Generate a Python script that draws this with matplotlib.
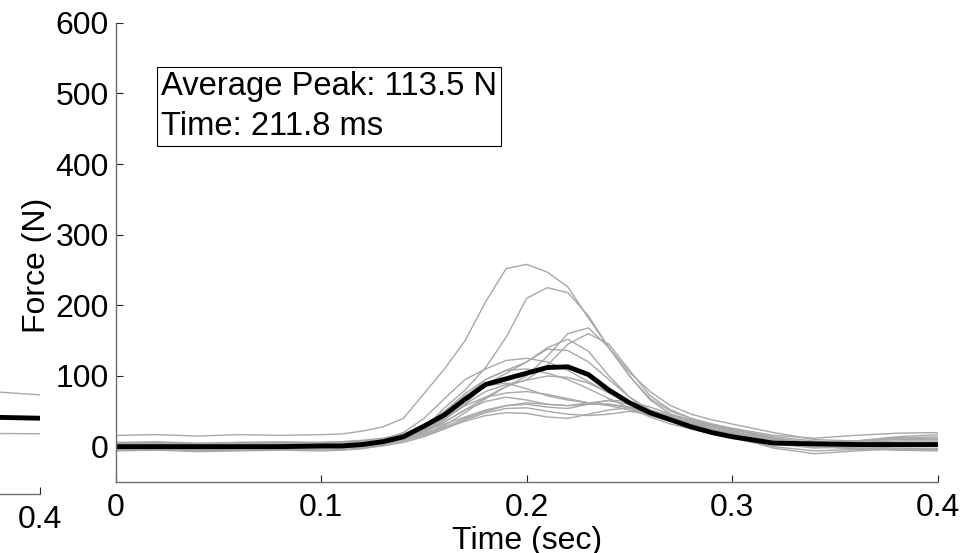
import numpy as np
import matplotlib
matplotlib.use("Agg")
import matplotlib.pyplot as plt

plt.rcParams["font.family"] = ["Liberation Sans", "DejaVu Sans"]

# time grid (s)
t = [0, 0.02, 0.04, 0.06, 0.08, 0.10, 0.11, 0.12, 0.13, 0.14,
     0.15, 0.16, 0.17, 0.18, 0.19, 0.20, 0.21, 0.22, 0.23, 0.24,
     0.25, 0.26, 0.27, 0.28, 0.29, 0.30, 0.32, 0.34, 0.36, 0.38, 0.40]

# individual trials (N)
trial_01 = [16, 17, 15, 17, 16, 17, 18, 22, 28, 40, 75, 110, 150, 205, 252, 258, 247, 226, 182, 140, 100, 68, 50, 40, 32, 26, 16, 12, 16, 19, 20]
trial_02 = [3, 4, 2, 3, 5, 4, 5, 6, 9, 14, 25, 55, 80, 112, 155, 210, 225, 218, 185, 140, 105, 78, 58, 46, 38, 32, 20, 10, 8, 14, 17]
trial_03 = [-2, -1, -3, -1, -2, -1, 0, 2, 5, 10, 18, 30, 48, 68, 85, 100, 128, 160, 168, 140, 100, 66, 46, 36, 29, 24, 10, 5, 8, 12, 12]
trial_04 = [1, 0, 2, 1, 0, 2, 2, 4, 7, 12, 22, 35, 52, 70, 85, 95, 115, 145, 160, 145, 108, 72, 52, 40, 32, 25, 12, 6, 2, 4, 5]
trial_05 = [-4, -3, -5, -3, -4, -3, -2, 0, 4, 10, 20, 38, 60, 88, 104, 120, 140, 152, 135, 100, 70, 50, 40, 34, 28, 22, 8, 2, 0, -2, -3]
trial_06 = [5, 6, 4, 6, 5, 6, 7, 9, 12, 18, 30, 50, 75, 95, 108, 120, 138, 136, 120, 95, 70, 52, 42, 34, 26, 20, 8, 4, 6, 8, 8]
trial_07 = [2, 3, 1, 2, 3, 3, 4, 6, 10, 20, 40, 68, 95, 110, 122, 125, 120, 108, 92, 76, 60, 46, 36, 28, 22, 16, 6, 0, -2, -4, -5]
trial_08 = [-6, -5, -7, -6, -5, -6, -5, -3, 2, 10, 25, 45, 70, 95, 108, 110, 104, 95, 82, 68, 55, 42, 32, 25, 18, 12, 0, -6, -4, -3, -3]
trial_09 = [0, 1, -1, 0, 1, 0, 1, 3, 6, 12, 22, 40, 60, 78, 88, 94, 100, 98, 90, 76, 62, 50, 40, 32, 25, 20, 10, 5, 4, 3, 3]
trial_10 = [-3, -2, -4, -3, -2, -3, -2, 0, 4, 12, 26, 48, 72, 86, 90, 82, 72, 66, 62, 60, 56, 48, 38, 30, 22, 15, 4, -2, 0, 2, 3]
trial_11 = [4, 5, 3, 4, 5, 4, 5, 6, 8, 14, 24, 40, 58, 70, 76, 78, 74, 68, 62, 58, 52, 44, 36, 28, 22, 16, 6, 2, 2, 0, 0]
trial_12 = [-1, 0, -2, -1, 0, -1, 0, 2, 5, 10, 20, 35, 52, 64, 70, 66, 60, 58, 60, 60, 55, 46, 38, 30, 24, 18, 8, 4, 8, 10, 10]
trial_13 = [2, 1, 3, 2, 1, 2, 3, 4, 6, 10, 18, 28, 40, 50, 58, 62, 60, 58, 62, 65, 60, 52, 44, 36, 30, 24, 14, 8, 4, 2, 2]
trial_14 = [-5, -4, -6, -5, -4, -5, -4, -2, 1, 6, 14, 25, 38, 48, 54, 55, 50, 46, 44, 46, 50, 46, 38, 30, 22, 14, -2, -10, -6, -3, -4]
trial_15 = [-2, -1, -3, -2, -1, -2, -1, 0, 3, 8, 16, 26, 36, 44, 48, 47, 42, 40, 46, 52, 55, 50, 42, 33, 25, 18, 6, 0, -3, -5, -6]
trial_16 = [6, 7, 5, 6, 7, 6, 7, 8, 10, 15, 22, 32, 42, 52, 58, 60, 56, 54, 60, 66, 64, 56, 46, 38, 30, 24, 12, 4, 8, 12, 14]

trials = [trial_01, trial_02, trial_03, trial_04, trial_05, trial_06, trial_07, trial_08,
          trial_09, trial_10, trial_11, trial_12, trial_13, trial_14, trial_15, trial_16]

# average curve (N)
mean_force = [0, 0, 0, 0, 0, 1, 1, 3, 7, 14, 29, 45, 67, 88, 96, 104, 112, 113, 102, 80, 62, 48, 38, 28, 20, 14, 5, 4, 3, 3, 3]

peak_force = 113.5
peak_time_ms = 211.8

# tail end of the neighbouring subplot, cut off at the left edge
left_t = [0.30, 0.35, 0.40]
left_mean = [60, 60, 57]
left_upper = [102, 100, 90]
left_lower = [35, 36, 35]

fig = plt.figure(figsize=(9.65, 5.53), dpi=100)

FS = 23
SPINE = "#6e6e6e"


def style_axes(ax):
    ax.spines["top"].set_visible(False)
    ax.spines["right"].set_visible(False)
    for s in ("left", "bottom"):
        ax.spines[s].set_color(SPINE)
        ax.spines[s].set_linewidth(1.0)
    ax.tick_params(direction="in", length=5, width=0.8, colors="#222222",
                   labelsize=FS, labelcolor="black", pad=6)


# neighbouring axes (mostly off the figure)
ax0 = fig.add_axes([-0.811, 0.107, 0.8523, 0.8306])
ax0.plot(left_t, left_upper, color="#a8a8a8", lw=1)
ax0.plot(left_t, left_lower, color="#a8a8a8", lw=1)
ax0.plot(left_t, left_mean, color="black", lw=3.5)
ax0.set_xlim(0, 0.4)
ax0.set_ylim(-50, 600)
ax0.set_xticks([0.4])
ax0.set_xticklabels(["0.4"])
ax0.set_yticks([])
style_axes(ax0)
ax0.tick_params(axis="x", pad=8)
ax0.spines["left"].set_visible(False)

# main axes
ax = fig.add_axes([0.1197, 0.1284, 0.8523, 0.8306])
for tr in trials:
    ax.plot(t, tr, color="#a8a8a8", lw=1)
ax.plot(t, mean_force, color="black", lw=3.5)

ax.set_xlim(0, 0.4)
ax.set_ylim(-50, 600)
ax.set_xticks([0, 0.1, 0.2, 0.3, 0.4])
ax.set_xticklabels(["0", "0.1", "0.2", "0.3", "0.4"])
ax.set_yticks([0, 100, 200, 300, 400, 500, 600])
style_axes(ax)
ax.tick_params(axis="x", pad=8)
ax.tick_params(axis="y", pad=5)

ax.set_xlabel("Time (sec)", fontsize=FS)
ax.xaxis.set_label_coords(0.5, -0.095)
ax.set_ylabel("Force (N)", fontsize=FS)
ax.yaxis.set_label_coords(-0.077, 0.472)

ax.text(0.0222, 531, f"Average Peak: {peak_force} N\nTime: {peak_time_ms} ms",
        fontsize=23.6, va="top", ha="left", linespacing=1.35,
        bbox=dict(boxstyle="square,pad=0.12", fc="white", ec="black", lw=0.8))

fig.savefig("out.png", dpi=100)
